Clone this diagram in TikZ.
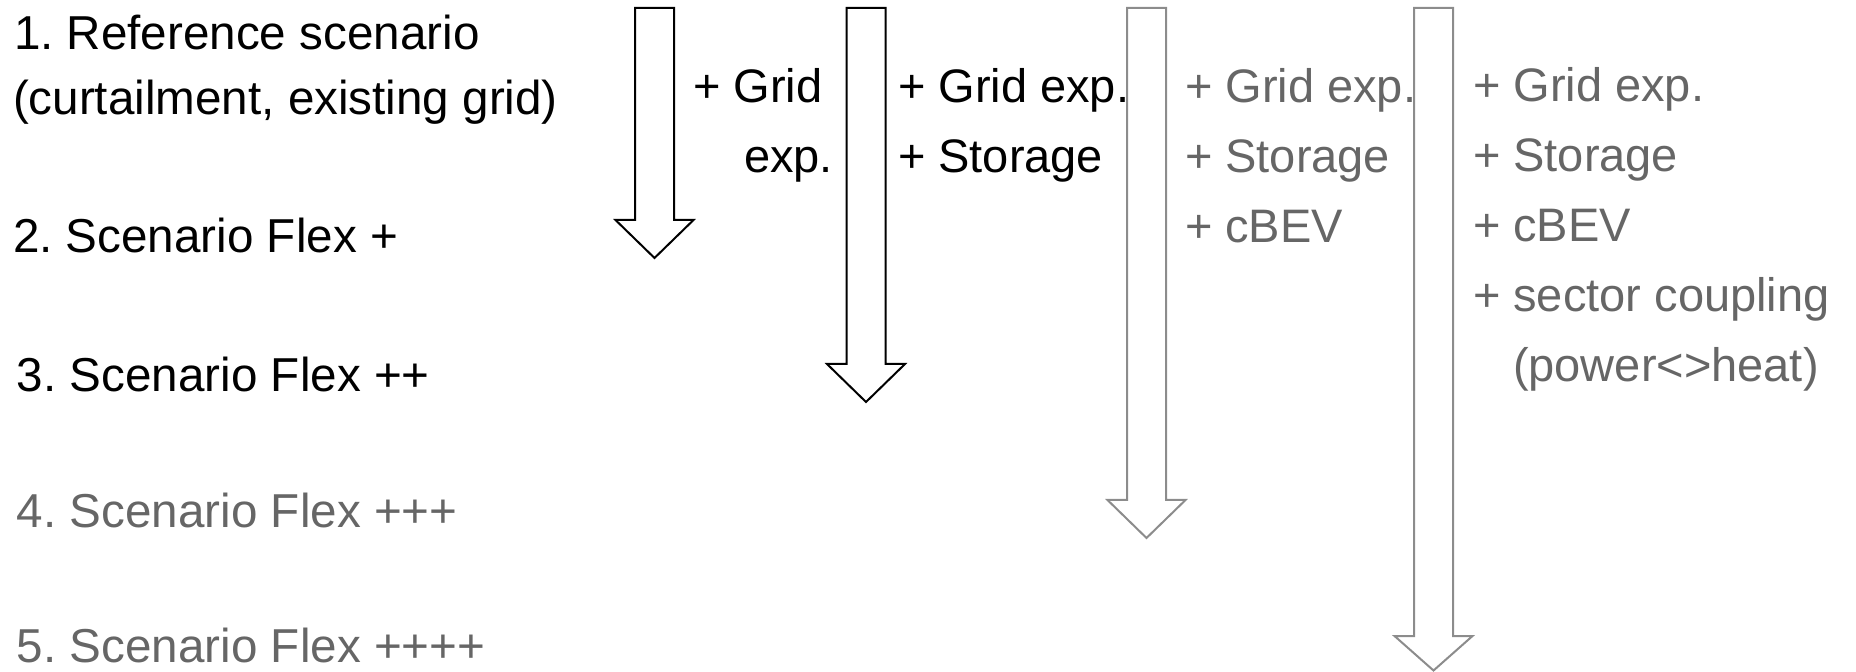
\documentclass[tikz,border=0pt]{standalone}
\usepackage{fontspec}
\setmainfont{Liberation Sans}
\frenchspacing
\definecolor{txtgray}{HTML}{666666}
\definecolor{arrgray}{HTML}{8C8C8C}
\newcommand\blockarr[5]{% style, cx, top, head, tip
  \draw[#1] (#2-19.5,#3) -- (#2+19.5,#3) -- (#2+19.5,#4) -- (#2+39,#4)
    -- (#2,#5) -- (#2-39,#4) -- (#2-19.5,#4) -- cycle;}
\begin{document}
\begin{tikzpicture}[x=0.5pt,y=-0.5pt,
  lbl/.style={inner sep=0pt, outer sep=0pt, anchor=base west, font=\fontsize{23.5}{28}\selectfont},
  lblr/.style={lbl, anchor=base east},
  scen/.style={lbl, font=\fontsize{23.8}{28}\selectfont},
  dark/.style={text=black},
  light/.style={text=txtgray},
  blkarrow/.style={draw=black, line width=1pt, line join=miter},
  gryarrow/.style={draw=arrgray, line width=1pt, line join=miter}]
\useasboundingbox (0,0) rectangle (1856,672);

% left column: scenarios
\node[scen,dark]  (s1a) at (14,50)  {1. Reference scenario};
\node[scen,dark]  (s1b) at (13,115) {(curtailment, existing grid)};
\node[scen,dark]  (s2)  at (13,253) {2. Scenario Flex +};
\node[scen,dark]  (s3)  at (17,392) {3. Scenario Flex ++};
\node[scen,light] (s4)  at (17,528) {4. Scenario Flex +++};
\node[scen,light] (s5)  at (17,662) {5. Scenario Flex ++++};

% column 1 labels
\node[lbl,dark]  (c1a) at (693,103) {+ Grid};
\node[lblr,dark] (c1b) at (833,173) {exp.};

% column 2 labels
\node[lbl,dark] (c2a) at (898,103) {+ Grid exp.};
\node[lbl,dark] (c2b) at (898,173) {+ Storage};

% column 3 labels
\node[lbl,light] (c3a) at (1185,103) {+ Grid exp.};
\node[lbl,light] (c3b) at (1185,173) {+ Storage};
\node[lbl,light] (c3c) at (1185,243) {+ cBEV};

% column 4 labels
\node[lbl,light] (c4a) at (1473,102) {+ Grid exp.};
\node[lbl,light] (c4b) at (1473,172) {+ Storage};
\node[lbl,light] (c4c) at (1473,242) {+ cBEV};
\node[lbl,light] (c4d) at (1473,312) {+ sector coupling};
\node[lbl,light] (c4e) at (1513,382) {(power<>heat)};

% block arrows
\blockarr{blkarrow}{654.5}{8}{220}{258}
\blockarr{blkarrow}{866}{8}{364}{402}
\blockarr{gryarrow}{1146.5}{8}{500}{538}
\blockarr{gryarrow}{1433.5}{8}{636}{670.5}
\end{tikzpicture}
\end{document}
